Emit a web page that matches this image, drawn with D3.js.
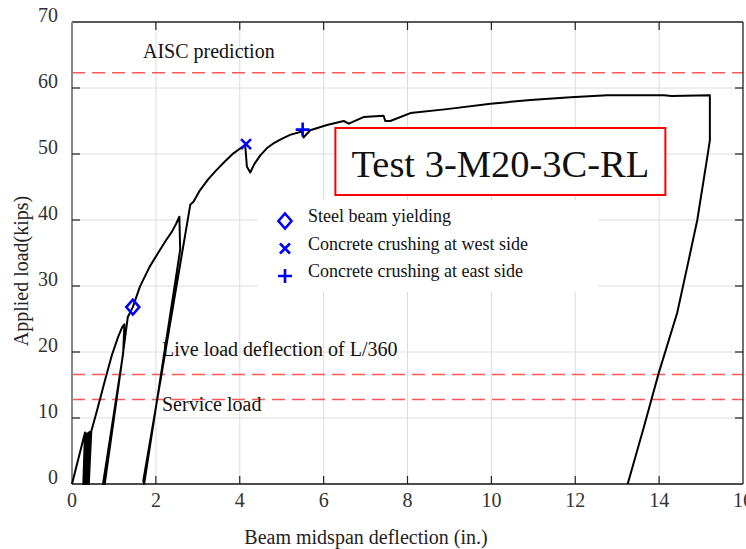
<!DOCTYPE html>
<html>
<head>
<meta charset="utf-8">
<script src="https://cdn.jsdelivr.net/npm/d3@7"></script>
<style>
  body { margin: 0; background: #fff; }
  svg text { font-family: "Liberation Serif", "Times New Roman", serif; }
</style>
</head>
<body>
<div id="chart"></div>
<script>
// load-deflection record (in., kips)
const deflection = [0, 0.31, 0.27, 0.33, 0.30, 0.36, 0.33, 0.40, 0.36, 0.43, 0.40, 0.46, 0.60, 0.79, 0.95, 1.10, 1.20, 1.25,
    1.22, 0.74, 0.78, 1.20, 1.33, 1.45, 1.62, 1.85, 2.10, 2.25, 2.38, 2.48, 2.56, 2.58, 1.72, 1.70, 2.14, 2.82, 2.90,
    3.05, 3.25, 3.45, 3.65, 3.85, 4.00, 4.13, 4.17, 4.25, 4.35, 4.49, 4.65, 4.80, 5.00, 5.20, 5.48, 5.52, 5.68, 6.08, 6.48, 6.60, 6.95,
    7.43, 7.47, 7.59, 8.07, 8.94, 9.98, 10.93, 11.89, 12.76, 14.11, 14.30, 15.21, 15.21, 15.15,
    14.91, 14.67, 14.43, 13.99, 13.64, 13.25];
const load = [0, 7.8, 0, 7.6, 0, 7.7, 0, 7.8, 0, 7.9, 0, 8.0, 11.2, 15.8, 19.5, 22.3, 23.8, 24.2,
    19.8, 0, 0, 19.0, 25.3, 26.8, 29.9, 32.9, 35.5, 37.0, 38.2, 39.4, 40.5, 35.5, 0, 0.5, 16.8, 42.3, 42.8,
    44.5, 46.2, 47.6, 48.9, 50.1, 50.8, 51.4, 48.1, 47.2, 48.5, 49.8, 50.9, 51.6, 52.3, 52.9, 53.4, 52.5, 53.6, 54.4, 55.0, 54.6, 55.6,
    55.8, 55.0, 55.0, 56.2, 56.8, 57.6, 58.2, 58.6, 58.9, 58.9, 58.8, 58.9, 52.1, 49.6,
    40.0, 32.9, 25.9, 16.8, 8.7, 0];

const eventNames = ["Steel beam yielding", "Concrete crushing at west side", "Concrete crushing at east side"];
const eventSymbols = ["diamond", "cross", "plus"];
const eventX = [1.45, 4.15, 5.5];
const eventY = [26.8, 51.5, 53.7];

const refNames = ["AISC prediction", "Live load deflection of L/360", "Service load"];
const refLoads = [62.3, 16.6, 12.8];

const xTicks = [0, 2, 4, 6, 8, 10, 12, 14, 16];
const yTicks = [0, 10, 20, 30, 40, 50, 60, 70];

const margin = {top: 22, left: 72, right: 3, bottom: 65};
const W = 746, H = 549;
const width = W - margin.left - margin.right;
const height = H - margin.top - margin.bottom;

const svg = d3.select("#chart").append("svg")
    .attr("width", W)
    .attr("height", H);

const g = svg.append("g")
    .attr("transform", "translate(" + margin.left + "," + margin.top + ")");

const x = d3.scaleLinear().domain([0, 16]).range([0, width]);
const y = d3.scaleLinear().domain([0, 70]).range([height, 0]);

// grid
g.selectAll("line.vgrid").data(xTicks.slice(1, -1)).enter().append("line")
    .attr("class", "vgrid")
    .attr("x1", d => x(d)).attr("x2", d => x(d))
    .attr("y1", 0).attr("y2", height)
    .style("stroke", "#dcdcdc").style("stroke-width", 1);
g.selectAll("line.hgrid").data(yTicks.slice(1, -1)).enter().append("line")
    .attr("class", "hgrid")
    .attr("x1", 0).attr("x2", width)
    .attr("y1", d => y(d)).attr("y2", d => y(d))
    .style("stroke", "#dcdcdc").style("stroke-width", 1);

// legend background hides the grid
g.append("rect")
    .attr("x", 186).attr("y", 178)
    .attr("width", 340).attr("height", 92)
    .style("fill", "#fff");

// reference lines
g.selectAll("line.ref").data(refLoads).enter().append("line")
    .attr("class", "ref")
    .attr("x1", 0).attr("x2", width)
    .attr("y1", d => y(d)).attr("y2", d => y(d))
    .style("stroke", "#ff3b3b")
    .style("stroke-width", 1.4)
    .style("stroke-opacity", 0.85)
    .style("stroke-dasharray", "13 7");

const refLabelPos = [[71, -15], [90, -18], [90, 11]];
g.selectAll("text.ref-label").data(refNames).enter().append("text")
    .attr("class", "ref-label")
    .attr("x", (d, i) => refLabelPos[i][0])
    .attr("y", (d, i) => y(refLoads[i]) + refLabelPos[i][1])
    .style("font-size", "20px")
    .style("fill", "#111")
    .text(d => d);

// frame + ticks
g.append("line").attr("x1", 0).attr("x2", width).attr("y1", 0).attr("y2", 0)
    .style("stroke", "#222").style("stroke-width", 1.3);
g.append("line").attr("x1", width).attr("x2", width).attr("y1", 0).attr("y2", height)
    .style("stroke", "#222").style("stroke-width", 1.3);
g.append("line").attr("x1", 0).attr("x2", width).attr("y1", height).attr("y2", height)
    .style("stroke", "#111").style("stroke-width", 1.5);
g.append("line").attr("x1", 0).attr("x2", 0).attr("y1", 0).attr("y2", height)
    .style("stroke", "#888").style("stroke-width", 2);

const tickLen = 8;
g.selectAll("line.xt-top").data(xTicks.slice(1, -1)).enter().append("line")
    .attr("x1", d => x(d)).attr("x2", d => x(d)).attr("y1", 0).attr("y2", tickLen)
    .style("stroke", "#222").style("stroke-width", 1.2);
g.selectAll("line.xt-bot").data(xTicks.slice(1, -1)).enter().append("line")
    .attr("x1", d => x(d)).attr("x2", d => x(d)).attr("y1", height).attr("y2", height - tickLen)
    .style("stroke", "#222").style("stroke-width", 1.2);
g.selectAll("line.yt-left").data(yTicks.slice(1, -1)).enter().append("line")
    .attr("x1", 0).attr("x2", tickLen).attr("y1", d => y(d)).attr("y2", d => y(d))
    .style("stroke", "#222").style("stroke-width", 1.2);
g.selectAll("line.yt-right").data(yTicks.slice(1, -1)).enter().append("line")
    .attr("x1", width).attr("x2", width - tickLen).attr("y1", d => y(d)).attr("y2", d => y(d))
    .style("stroke", "#222").style("stroke-width", 1.2);

// tick labels
g.selectAll("text.xtl").data(xTicks).enter().append("text")
    .attr("x", d => x(d)).attr("y", height + 23)
    .attr("text-anchor", "middle")
    .style("font-size", "20px").style("fill", "#333")
    .text(d => d);
g.selectAll("text.ytl").data(yTicks).enter().append("text")
    .attr("x", -14).attr("y", d => y(d))
    .attr("text-anchor", "end")
    .style("font-size", "20px").style("fill", "#333")
    .text(d => d);

// axis titles
svg.append("text")
    .attr("x", 366).attr("y", 544)
    .attr("text-anchor", "middle")
    .style("font-size", "20px").style("fill", "#222")
    .text("Beam midspan deflection (in.)");
svg.append("text")
    .attr("transform", "translate(28,271) rotate(-90)")
    .attr("text-anchor", "middle")
    .style("font-size", "20px").style("fill", "#222")
    .text("Applied load(kips)");

// curve
const pts = deflection.map((d, i) => [d, load[i]]);
g.append("path")
    .datum(pts)
    .attr("d", d3.line().x(d => x(d[0])).y(d => y(d[1])))
    .style("fill", "none")
    .style("stroke", "#000")
    .style("stroke-width", 2)
    .style("stroke-linejoin", "round");

// symbols
function drawSymbol(sel, type, cx, cy) {
    if (type === "diamond") {
        sel.append("path")
            .attr("d", "M" + cx + "," + (cy - 7.5) + "L" + (cx + 6.5) + "," + cy + "L" + cx + "," + (cy + 7.5) + "L" + (cx - 6.5) + "," + cy + "Z")
            .style("fill", "none").style("stroke", "#0000ff").style("stroke-width", 2.6);
    } else if (type === "cross") {
        sel.append("path")
            .attr("d", "M" + (cx - 5) + "," + (cy - 5) + "L" + (cx + 5) + "," + (cy + 5) + "M" + (cx + 5) + "," + (cy - 5) + "L" + (cx - 5) + "," + (cy + 5))
            .style("fill", "none").style("stroke", "#0000ff").style("stroke-width", 2.6);
    } else {
        sel.append("path")
            .attr("d", "M" + (cx - 7) + "," + cy + "L" + (cx + 7) + "," + cy + "M" + cx + "," + (cy - 7) + "L" + cx + "," + (cy + 7))
            .style("fill", "none").style("stroke", "#0000ff").style("stroke-width", 2.6);
    }
}

eventSymbols.forEach(function(s, i) {
    drawSymbol(g, s, x(eventX[i]), y(eventY[i]));
});

// legend
const legend = g.append("g").attr("transform", "translate(213,199)");
eventNames.forEach(function(name, i) {
    drawSymbol(legend, eventSymbols[i], 0, i * 27.5);
    legend.append("text")
        .attr("x", 23).attr("y", i * 27.5 + 1)
        .style("font-size", "18px").style("fill", "#111")
        .text(name);
});

// test label
g.append("rect")
    .attr("x", x(6.28)).attr("y", 106)
    .attr("width", 330).attr("height", 67)
    .style("fill", "#fff")
    .style("stroke", "#ff0000")
    .style("stroke-width", 2);
g.append("text")
    .attr("x", x(6.28) + 165).attr("y", 155)
    .attr("text-anchor", "middle")
    .style("font-size", "38.5px").style("fill", "#111")
    .text("Test 3-M20-3C-RL");
</script>
</body>
</html>
